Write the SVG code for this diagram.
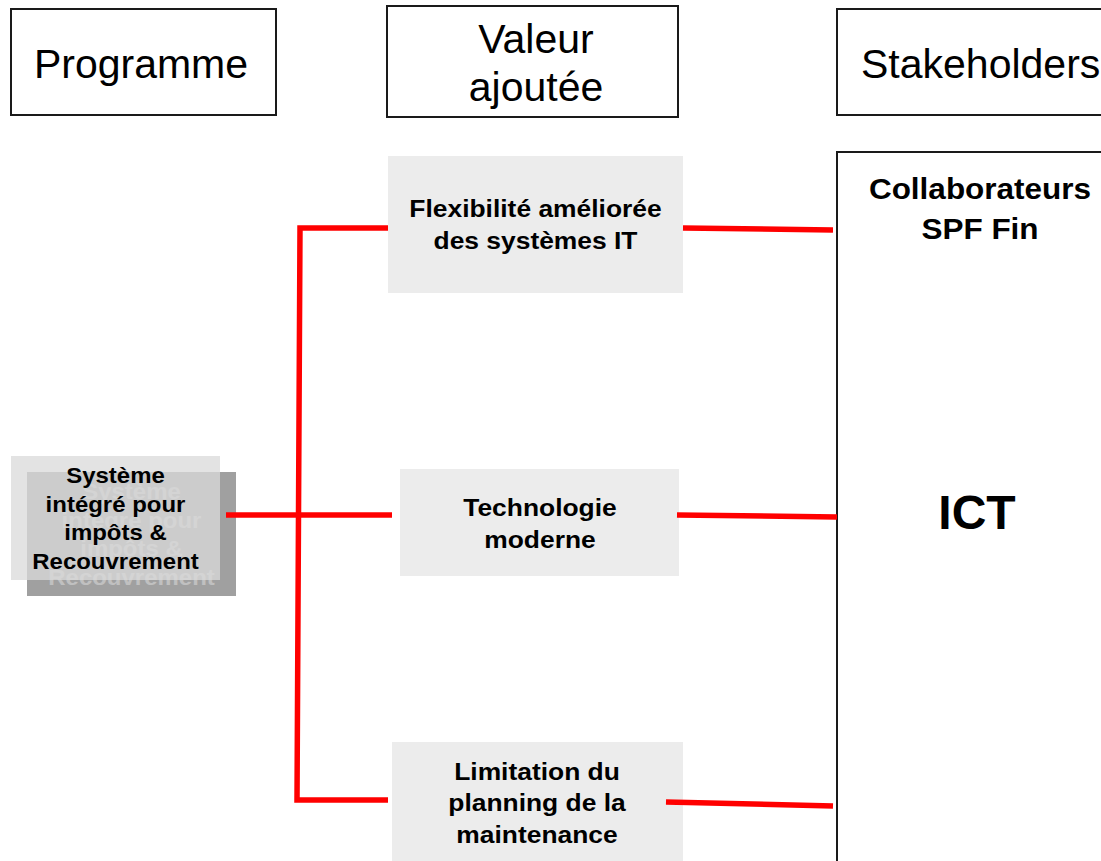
<svg xmlns="http://www.w3.org/2000/svg" width="1101" height="861" viewBox="0 0 1101 861">
  <style>
    .hdr { fill: #ffffff; stroke: #1a1a1a; stroke-width: 2; }
    .hdr-txt { font-family: "Liberation Sans", Arial, sans-serif; font-size: 41px; fill: #000; }
    .val { fill: #ececec; }
    .val-txt { font-family: "Liberation Sans", Arial, sans-serif; font-size: 24px; font-weight: bold; fill: #000; text-anchor: middle; }
    .prog-txt { font-family: "Liberation Sans", Arial, sans-serif; font-size: 22px; font-weight: bold; text-anchor: middle; }
    .stk-txt { font-family: "Liberation Sans", Arial, sans-serif; font-weight: bold; fill: #000; text-anchor: middle; }
    .link { fill: none; stroke: #ff0000; stroke-width: 5.5; stroke-linejoin: miter; }
  </style>

  <rect width="1101" height="861" fill="#ffffff"/>

  <!-- column headers -->
  <g id="hdr-programme">
    <rect class="hdr" x="11" y="9" width="265" height="106"/>
    <text class="hdr-txt" x="141" y="78" text-anchor="middle">Programme</text>
  </g>
  <g id="hdr-valeur">
    <rect class="hdr" x="387" y="6" width="291" height="111"/>
    <text class="hdr-txt" x="536" y="53" text-anchor="middle">Valeur</text>
    <text class="hdr-txt" x="536" y="101" text-anchor="middle">ajoutée</text>
  </g>
  <g id="hdr-stakeholders">
    <rect class="hdr" x="837" y="9" width="300" height="106"/>
    <text class="hdr-txt" x="861" y="78">Stakeholders</text>
  </g>

  <!-- stakeholder column -->
  <g id="stakeholder-ict">
    <rect x="837" y="152" width="300" height="760" fill="#ffffff" stroke="#1a1a1a" stroke-width="2"/>
    <g transform="translate(980,0) scale(1.05,1)">
      <text class="stk-txt" x="0" y="199" font-size="30">Collaborateurs</text>
      <text class="stk-txt" x="0" y="239" font-size="30">SPF Fin</text>
    </g>
    <text class="stk-txt" x="977" y="529" font-size="48">ICT</text>
  </g>

  <!-- programme node: shadow with ghost label, translucent front -->
  <g id="programme-node">
    <rect x="27" y="472" width="209" height="124" fill="#a0a0a0"/>
    <g transform="translate(131.5,16) scale(1.09,1)" fill="#c0c0c0">
      <text class="prog-txt" x="0" y="483">Système</text>
      <text class="prog-txt" x="0" y="512">intégré pour</text>
      <text class="prog-txt" x="0" y="540">impôts &amp;</text>
      <text class="prog-txt" x="0" y="569">Recouvrement</text>
    </g>
    <rect x="11" y="456" width="209" height="124" fill="#dadada" fill-opacity="0.76"/>
    <g transform="translate(115.5,0) scale(1.09,1)" fill="#000000">
      <text class="prog-txt" x="0" y="483">Système</text>
      <text class="prog-txt" x="0" y="512">intégré pour</text>
      <text class="prog-txt" x="0" y="540">impôts &amp;</text>
      <text class="prog-txt" x="0" y="569">Recouvrement</text>
    </g>
  </g>

  <!-- value nodes -->
  <g id="value-flexibilite">
    <rect class="val" x="388" y="156" width="295" height="137"/>
    <g transform="translate(535.5,0) scale(1.1,1)">
      <text class="val-txt" x="0" y="217">Flexibilité améliorée</text>
      <text class="val-txt" x="0" y="249">des systèmes IT</text>
    </g>
  </g>
  <g id="value-technologie">
    <rect class="val" x="400" y="469" width="279" height="107"/>
    <g transform="translate(540,0) scale(1.1,1)">
      <text class="val-txt" x="0" y="516">Technologie</text>
      <text class="val-txt" x="0" y="548">moderne</text>
    </g>
  </g>
  <g id="value-limitation">
    <rect class="val" x="392" y="742" width="291" height="130"/>
    <g transform="translate(537,0) scale(1.1,1)">
      <text class="val-txt" x="0" y="780">Limitation du</text>
      <text class="val-txt" x="0" y="811">planning de la</text>
      <text class="val-txt" x="0" y="843">maintenance</text>
    </g>
  </g>

  <!-- connectors -->
  <g id="connectors">
    <path class="link" d="M388,228 L300,228 L297,800 L388,800"/>
    <path class="link" d="M226,515 L392,515"/>
    <path class="link" d="M683,228 L833,230"/>
    <path class="link" d="M677,515 L837,517"/>
    <path class="link" d="M666,802 L833,806"/>
  </g>
</svg>
